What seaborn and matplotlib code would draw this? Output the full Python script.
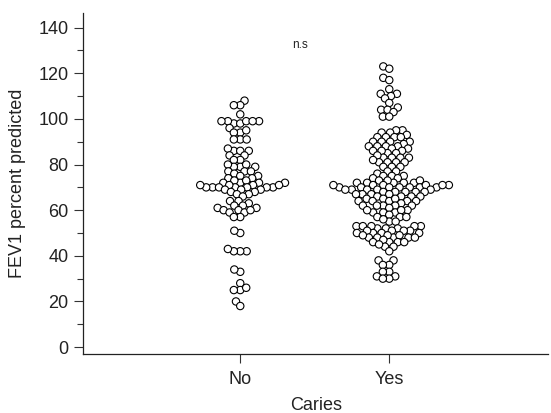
import types
import numpy as np
import pandas as pd
import matplotlib
matplotlib.use("Agg")
import matplotlib.pyplot as plt
from matplotlib.collections import PathCollection
import seaborn as sns
from matplotlib.ticker import MultipleLocator

categories = ["No", "Yes"]

no_values = [108, 106, 106, 102,
             98, 98, 99, 99, 99, 99, 99,
             96,
             94, 94, 95,
             91, 91, 91,
             86, 86, 86, 87,
             84, 84,
             82, 82,
             79, 79, 79, 80, 80,
             77, 77, 77, 76,
             75, 75, 74, 74,
             72, 72, 72, 73, 73, 72,
             70, 70, 70, 70, 70, 71, 71, 70, 71, 71, 70,
             69, 69, 69, 68, 68,
             67, 67, 66,
             64, 64, 63,
             62, 62, 61, 61,
             60, 60, 59, 59, 60,
             57, 57,
             50, 51,
             42, 42, 42, 43,
             33, 34,
             28,
             25, 25, 26,
             20,
             18]

yes_values = [123, 122,
              118, 117,
              113,
              111, 111, 110,
              109,
              107,
              104, 104, 105,
              103,
              101, 101,
              95, 95,
              94, 94,
              92, 92, 92, 93, 92,
              90, 90, 90, 89, 90,
              88, 88, 88, 87, 87, 88,
              86, 86, 85, 85, 86,
              83, 83, 84, 83, 83,
              81, 81, 82, 81, 81,
              79, 79, 79,
              77, 77, 76,
              75, 75, 74, 74, 75,
              72, 72, 73, 72, 73, 72, 72, 73,
              70, 70, 70, 71, 71, 70, 71, 70, 71, 70, 71, 71, 70,
              69, 69, 68, 68, 69, 69, 68, 68, 69, 68,
              67, 67, 66, 66, 67, 66, 67, 66,
              65, 64, 64, 65, 64, 64, 65, 64,
              62, 62, 62, 63, 62, 62, 61,
              60, 59, 59, 60, 59, 60,
              57, 57, 58, 57,
              55, 55, 56,
              53, 53, 52, 53, 52, 53, 53, 52,
              51, 50, 50, 51, 50, 51, 50, 51,
              48, 48, 49, 48, 48, 49, 48, 49,
              46, 46, 47, 46, 46,
              44, 44, 45,
              42,
              38, 38,
              36, 36,
              33, 33,
              31, 31, 30,
              30]

y_ticks = [0, 20, 40, 60, 80, 100, 120, 140]
annotation = "n.s"

df = pd.DataFrame({
    "Caries": [categories[0]] * len(no_values) + [categories[1]] * len(yes_values),
    "FEV1": no_values + yes_values,
})

sns.set_style("ticks")
plt.rcParams["font.family"] = ["Liberation Sans", "DejaVu Sans"]

fig = plt.figure(figsize=(5.51, 4.13), dpi=100)
ax = fig.add_axes([0.151, 0.143, 0.844, 0.826])

# lay the swarm out with a smaller footprint so circles overlap a little
sns.swarmplot(data=df, x="Caries", y="FEV1", order=categories, ax=ax,
              color="white", edgecolor="black", linewidth=0.8, size=3.6)

ax.set_xlim(-1.054, 2.067)
ax.set_ylim(-3, 146.5)
ax.set_yticks(y_ticks)
ax.yaxis.set_minor_locator(MultipleLocator(10))
ax.tick_params(axis="both", which="major", length=6.5, width=0.8, colors="#333333",
               labelsize=13, labelcolor="#222222")
ax.tick_params(axis="x", which="major", pad=6)
ax.tick_params(axis="y", which="major", pad=4)
ax.tick_params(axis="y", which="minor", length=4, width=0.8, colors="#333333")
for s in ["top", "right"]:
    ax.spines[s].set_visible(False)
for s in ["left", "bottom"]:
    ax.spines[s].set_linewidth(0.9)
    ax.spines[s].set_color("#222222")

ax.set_xlabel("Caries", fontsize=13, color="#222222", labelpad=6)
ax.set_ylabel("FEV1 percent predicted", fontsize=13, color="#222222", labelpad=9)
ax.text(0.40, 132.5, annotation, fontsize=8.5, ha="center", va="center", color="#222222")

# compute the swarm positions, then freeze them and enlarge the circles
fig.canvas.draw()
for coll in ax.collections:
    if isinstance(coll, PathCollection):
        coll.draw = types.MethodType(PathCollection.draw, coll)
        coll.set_sizes(np.full(len(coll.get_offsets()), 5.3 ** 2))
        coll.set_linewidth(0.8)

fig.savefig("out.png", dpi=100)
